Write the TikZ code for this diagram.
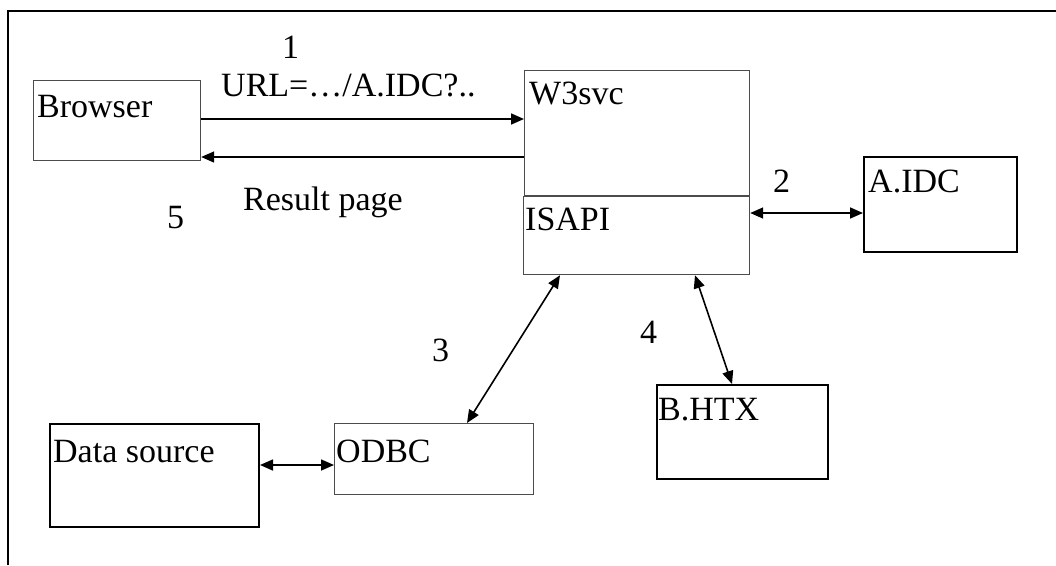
\documentclass[tikz,border=0pt]{standalone}
\usepackage{fontspec}
\setmainfont{Liberation Serif}
\usetikzlibrary{arrows.meta}
\begin{document}
\begin{tikzpicture}[x=1pt,y=-1pt,
  gbox/.style={draw=black!70, line width=1.2pt, inner sep=0pt, anchor=north west},
  kbox/.style={draw=black, line width=2pt, inner sep=0pt, anchor=north west},
  lbl/.style={anchor=base west, inner sep=0pt, font=\fontsize{34}{38}\selectfont},
  arr/.style={line width=1.6pt, -{Triangle[length=13pt,width=11pt]}},
  darr/.style={line width=1.6pt, {Triangle[length=13pt,width=11pt]}-{Triangle[length=13pt,width=11pt]}}]
\useasboundingbox (0,0) rectangle (1056,565);
\fill[white] (0,0) rectangle (1056,565);
% frame edges
\draw[line width=2pt] (8,565) -- (8,11) -- (1056,11);

% boxes
\node[gbox, minimum width=167pt, minimum height=80pt] (browser) at (33,80) {};
\node[gbox, minimum width=225pt, minimum height=125pt] (w3) at (524,70) {};
\node[gbox, minimum width=226pt, minimum height=78pt] (isapi) at (523,196) {};
\node[kbox, minimum width=153pt, minimum height=95pt] (aidc) at (863,156) {};
\node[kbox, minimum width=171pt, minimum height=94pt] (bhtx) at (656,384) {};
\node[gbox, minimum width=199pt, minimum height=71pt] (odbc) at (334,423) {};
\node[kbox, minimum width=209pt, minimum height=103pt] (dsrc) at (49,423) {};

% box titles
\node[lbl] (tbrowser) at (37,117) {Browser};
\node[lbl] (tw3) at (529,104) {W3svc};
\node[lbl] (tisapi) at (525,230) {ISAPI};
\node[lbl] (taidc) at (868,192) {A.IDC};
\node[lbl] (tbhtx) at (658,420) {B.HTX};
\node[lbl] (todbc) at (336,462) {ODBC};
\node[lbl] (tdsrc) at (53,462) {Data source};

% step labels
\node[lbl] (n1) at (282,58) {1};
\node[lbl] (url) at (221,96) {URL=…/A.IDC?..};
\node[lbl] (res) at (243,210) {Result page};
\node[lbl] (n5) at (167,228) {5};
\node[lbl] (n2) at (773,192) {2};
\node[lbl] (n3) at (432,361) {3};
\node[lbl] (n4) at (640,343) {4};

% connectors
\coordinate (y1) at (0,119);
\coordinate (y5) at (0,157);
\coordinate (y2) at (0,213);
\coordinate (y6) at (0,465);
\coordinate (i3) at (560,0);
\coordinate (o3) at (467,0);
\coordinate (i4) at (695,0);
\coordinate (b4) at (732,0);
\draw[arr] (browser.east |- y1) -- (w3.west |- y1);
\draw[arr] (w3.west |- y5) -- (browser.east |- y5);
\draw[darr] (isapi.east |- y2) -- (aidc.west |- y2);
\draw[darr] (isapi.south -| i3) -- (odbc.north -| o3);
\draw[darr] (isapi.south -| i4) -- (bhtx.north -| b4);
\draw[darr] (dsrc.east |- y6) -- (odbc.west |- y6);
\end{tikzpicture}
\end{document}
